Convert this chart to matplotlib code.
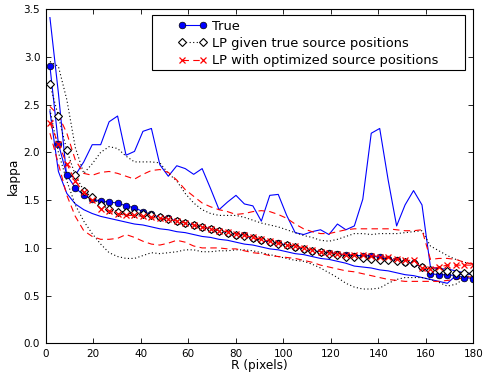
import matplotlib
matplotlib.use('Agg')
import matplotlib.pyplot as plt
from matplotlib.patches import Rectangle

# radius bins (pixels)
R = [1.75, 5.31, 8.87, 12.43, 15.99, 19.55, 23.11, 26.67, 30.23, 33.79,
     37.35, 40.91, 44.47, 48.03, 51.59, 55.15, 58.71, 62.27, 65.83, 69.39,
     72.95, 76.51, 80.07, 83.63, 87.19, 90.75, 94.31, 97.87, 101.43, 104.99,
     108.55, 112.11, 115.67, 119.23, 122.79, 126.35, 129.91, 133.47, 137.03, 140.59,
     144.15, 147.71, 151.27, 154.83, 158.39, 161.95, 165.51, 169.07, 172.63, 176.19,
     179.75]

# True kappa profile and its spread
true_kappa = [2.90, 2.09, 1.76, 1.63, 1.55, 1.51, 1.49, 1.48, 1.47, 1.44,
              1.42, 1.38, 1.35, 1.32, 1.31, 1.28, 1.26, 1.24, 1.22, 1.20,
              1.18, 1.16, 1.14, 1.13, 1.10, 1.08, 1.06, 1.05, 1.03, 1.01,
              0.99, 0.97, 0.96, 0.95, 0.94, 0.925, 0.92, 0.92, 0.92, 0.90,
              0.88, 0.87, 0.85, 0.84, 0.80, 0.73, 0.72, 0.72, 0.71, 0.69,
              0.68]
true_hi = [3.41, 2.62, 1.73, 1.76, 1.90, 2.08, 2.08, 2.32, 2.38, 1.97,
           2.01, 2.22, 2.25, 1.87, 1.75, 1.86, 1.83, 1.77, 1.83, 1.62,
           1.40, 1.48, 1.55, 1.46, 1.44, 1.28, 1.55, 1.56, 1.34, 1.16,
           1.14, 1.17, 1.19, 1.14, 1.25, 1.19, 1.23, 1.51, 2.20, 2.25,
           1.71, 1.23, 1.45, 1.60, 1.45, 0.80, 0.78, 0.78, 0.76, 0.74,
           0.73]
true_lo = [2.43, 1.80, 1.57, 1.46, 1.40, 1.36, 1.33, 1.31, 1.29, 1.27,
           1.25, 1.24, 1.22, 1.20, 1.19, 1.17, 1.16, 1.14, 1.12, 1.11,
           1.09, 1.08, 1.06, 1.04, 1.03, 1.01, 0.99, 0.98, 0.96, 0.94,
           0.93, 0.91, 0.89, 0.88, 0.86, 0.84, 0.81, 0.80, 0.79, 0.77,
           0.76, 0.74, 0.72, 0.71, 0.69, 0.67, 0.65, 0.63, 0.71, 0.73,
           0.72]

# LP reconstruction given true source positions
lp_true = [2.71, 2.38, 2.02, 1.76, 1.60, 1.53, 1.45, 1.41, 1.38, 1.38,
           1.37, 1.36, 1.34, 1.32, 1.30, 1.28, 1.26, 1.24, 1.22, 1.20,
           1.18, 1.16, 1.14, 1.12, 1.10, 1.08, 1.06, 1.04, 1.03, 1.01,
           0.99, 0.97, 0.96, 0.94, 0.93, 0.91, 0.90, 0.89, 0.88, 0.87,
           0.87, 0.86, 0.85, 0.84, 0.80, 0.77, 0.77, 0.76, 0.74, 0.74,
           0.74]
lp_true_hi = [2.95, 2.90, 2.55, 2.05, 1.78, 1.88, 2.00, 2.06, 2.04, 1.96,
              1.90, 1.90, 1.90, 1.89, 1.78, 1.70, 1.57, 1.47, 1.40, 1.36,
              1.34, 1.34, 1.34, 1.32, 1.29, 1.26, 1.24, 1.22, 1.19, 1.16,
              1.13, 1.11, 1.08, 1.07, 1.09, 1.12, 1.15, 1.15, 1.14, 1.15,
              1.15, 1.15, 1.16, 1.17, 1.18, 1.02, 0.97, 0.92, 0.88, 0.85,
              0.83]
lp_true_lo = [2.45, 2.00, 1.70, 1.45, 1.28, 1.15, 1.04, 0.95, 0.91, 0.89,
              0.89, 0.92, 0.95, 0.94, 0.95, 0.96, 0.98, 0.98, 0.96, 0.96,
              0.97, 0.97, 0.98, 0.98, 0.97, 0.95, 0.93, 0.91, 0.89, 0.87,
              0.86, 0.83, 0.79, 0.74, 0.69, 0.63, 0.59, 0.57, 0.57, 0.58,
              0.63, 0.67, 0.69, 0.69, 0.69, 0.67, 0.64, 0.60, 0.62, 0.68,
              0.73]

# LP reconstruction with optimized source positions
lp_opt = [2.31, 2.09, 1.88, 1.70, 1.58, 1.50, 1.41, 1.39, 1.36, 1.34,
          1.34, 1.33, 1.32, 1.31, 1.30, 1.28, 1.26, 1.24, 1.22, 1.20,
          1.18, 1.17, 1.15, 1.13, 1.11, 1.09, 1.07, 1.05, 1.03, 1.02,
          1.00, 0.98, 0.96, 0.95, 0.94, 0.93, 0.93, 0.93, 0.92, 0.91,
          0.90, 0.88, 0.87, 0.87, 0.79, 0.78, 0.80, 0.82, 0.82, 0.82,
          0.82]
lp_opt_hi = [2.48, 2.39, 2.20, 1.92, 1.78, 1.76, 1.79, 1.80, 1.78, 1.75,
             1.72, 1.77, 1.81, 1.82, 1.79, 1.71, 1.61, 1.54, 1.47, 1.43,
             1.40, 1.38, 1.35, 1.36, 1.38, 1.39, 1.38, 1.35, 1.31, 1.25,
             1.20, 1.17, 1.15, 1.15, 1.17, 1.19, 1.20, 1.20, 1.20, 1.20,
             1.20, 1.19, 1.18, 1.18, 1.19, 0.88, 0.89, 0.89, 0.88, 0.85,
             0.83]
lp_opt_lo = [2.20, 1.88, 1.55, 1.33, 1.18, 1.12, 1.09, 1.09, 1.10, 1.14,
             1.11, 1.07, 1.04, 1.03, 1.05, 1.08, 1.06, 1.02, 1.00, 1.00,
             1.00, 0.99, 0.99, 0.97, 0.95, 0.94, 0.92, 0.91, 0.90, 0.89,
             0.87, 0.85, 0.82, 0.80, 0.78, 0.76, 0.75, 0.73, 0.71, 0.69,
             0.67, 0.66, 0.65, 0.65, 0.65, 0.65, 0.65, 0.66, 0.67, 0.69,
             0.70]

x_ticks = [0, 20, 40, 60, 80, 100, 120, 140, 160, 180]
y_ticks = [0.0, 0.5, 1.0, 1.5, 2.0, 2.5, 3.0, 3.5]

plt.rcParams['font.family'] = 'DejaVu Sans'
plt.rcParams['font.size'] = 7.5

fig = plt.figure(figsize=(4.86, 3.73), dpi=100)
ax = fig.add_axes([0.0942, 0.0791, 0.8797, 0.8968])

lw = 0.8
dotted = (0, (1, 2.2))
dashed = (0, (5.8, 3.9))

# spread lines
ax.plot(R, true_hi, color='b', lw=lw)
ax.plot(R, true_lo, color='b', lw=lw)
ax.plot(R, lp_true_hi, color='k', lw=lw, linestyle=dotted)
ax.plot(R, lp_true_lo, color='k', lw=lw, linestyle=dotted)
ax.plot(R, lp_opt_hi, color='r', lw=lw, linestyle=dashed)
ax.plot(R, lp_opt_lo, color='r', lw=lw, linestyle=dashed)

# central profiles
ax.plot(R, true_kappa, color='b', lw=lw, marker='o', markersize=4.8,
        markerfacecolor='b', markeredgecolor='k', markeredgewidth=0.5, label='True')
ax.plot(R, lp_true, color='k', lw=lw, linestyle=dotted, marker='D', markersize=3.9,
        markerfacecolor='w', markeredgecolor='k', markeredgewidth=0.8,
        label='LP given true source positions')
ax.plot(R, lp_opt, color='r', lw=lw, linestyle=dashed, marker='x', markersize=4.6,
        markeredgecolor='r', markeredgewidth=0.9,
        label='LP with optimized source positions')

ax.set_xlim(0, 180)
ax.set_ylim(0, 3.5)
ax.set_xticks(x_ticks)
ax.set_yticks(y_ticks)
ax.set_yticklabels(['%.1f' % v for v in y_ticks])
ax.tick_params(direction='in', top=True, right=True, length=3.5, width=0.6, pad=4)
for s in ax.spines.values():
    s.set_linewidth(0.8)

ax.set_xlabel('R (pixels)', fontsize=8.7, labelpad=0)
ax.set_ylabel('kappa', fontsize=8.7, labelpad=3)

# legend with wide old-style frame
leg = ax.legend(loc='upper left', bbox_to_anchor=(0.309, 0.968), frameon=False,
                numpoints=2, handlelength=2.21, handletextpad=0.39, labelspacing=0.33,
                borderpad=0, borderaxespad=0, fontsize=9.4)
ax.add_patch(Rectangle((0.249, 0.818), 0.732, 0.164, transform=ax.transAxes,
                       facecolor='w', edgecolor='k', lw=0.8, zorder=4))
leg.set_zorder(5)

plt.savefig('out.png', dpi=100)
